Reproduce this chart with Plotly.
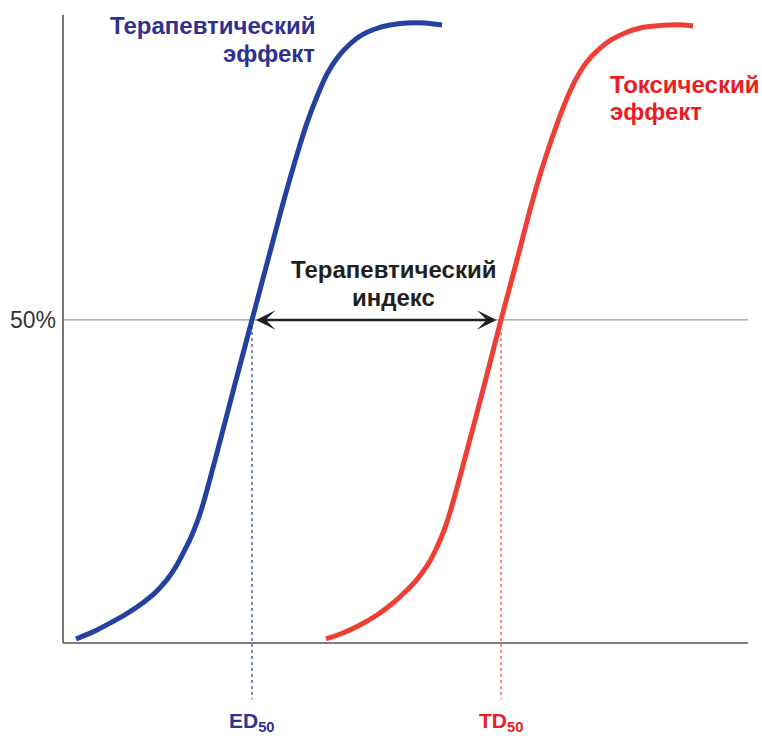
import plotly.graph_objects as go

# ---- data: dose (arbitrary units) vs. response (%) ----
blue_x = [13, 30, 47, 63, 80, 92, 104, 113, 122, 128, 134, 139, 144, 149, 155, 172, 189,
          206, 219, 228, 236, 244, 253, 264, 275, 287, 299, 312, 327, 344, 362, 379]
blue_y = [0.62, 1.72, 3.08, 4.47, 6.24, 7.75, 9.80, 11.83, 14.47, 16.38, 18.65, 20.97,
          23.68, 26.56, 30.04, 40.09, 50.0, 59.90, 67.48, 72.44, 76.62, 80.49, 84.20,
          88.07, 90.70, 92.71, 94.11, 95.03, 95.65, 95.96, 95.96, 95.65]
red_x = [263, 280, 297, 314, 330, 341, 351, 359, 367, 374, 380, 385, 390, 395, 402, 420,
         438, 454, 467, 477, 485, 493, 502, 512, 523, 535, 548, 562, 577, 592, 607, 620, 630]
red_y = [0.62, 1.55, 2.79, 4.33, 6.19, 7.74, 9.29, 10.83, 12.69, 14.86, 17.03, 19.19,
         21.82, 24.61, 28.63, 39.16, 50.0, 59.28, 67.02, 72.44, 76.31, 79.87, 83.58,
         86.99, 89.77, 91.78, 93.33, 94.42, 95.19, 95.50, 95.65, 95.65, 95.50]
ed50 = 189
td50 = 438
half_level = 50
y_top = 97.2
x_max = 685

label_ther = ["Терапевтический", "эффект"]
label_tox = ["Токсический", "эффект"]
label_index = ["Терапевтический", "индекс"]
label_ed = "ED<sub>50</sub>"
label_td = "TD<sub>50</sub>"
tick_label = "50%"

BLUE_LINE = "#2541a0"
RED_LINE = "#ef3e36"
BLUE_TEXT = "#2e3192"
RED_TEXT = "#ed1c24"
FONT = "Liberation Sans, Arial, sans-serif"

fig = go.Figure()
fig.add_trace(go.Scatter(x=blue_x, y=blue_y, mode="lines",
                         line=dict(color=BLUE_LINE, width=5, shape="spline", smoothing=0.8),
                         hoverinfo="skip", showlegend=False))
fig.add_trace(go.Scatter(x=red_x, y=red_y, mode="lines",
                         line=dict(color=RED_LINE, width=5, shape="spline", smoothing=0.8),
                         hoverinfo="skip", showlegend=False))

shapes = [
    dict(type="line", xref="x", yref="y", x0=0, x1=x_max, y0=half_level, y1=half_level,
         line=dict(color="#9a9a9a", width=1.2), layer="below"),
    dict(type="line", xref="x", yref="y", x0=0, x1=0, y0=0, y1=y_top,
         line=dict(color="#555555", width=1.6)),
    dict(type="line", xref="x", yref="y", x0=0, x1=x_max, y0=0, y1=0,
         line=dict(color="#555555", width=1.6)),
    dict(type="line", xref="x", yref="y", x0=ed50, x1=ed50, y0=half_level, y1=-8.7,
         line=dict(color=BLUE_LINE, width=1.2, dash="dot")),
    dict(type="line", xref="x", yref="y", x0=td50, x1=td50, y0=half_level, y1=-8.7,
         line=dict(color=RED_LINE, width=1.2, dash="dot")),
]


def text_line(x, y, txt, color, xanchor, size=24):
    return dict(x=x, y=y, xref="x", yref="y", text="<b>" + txt + "</b>",
                showarrow=False, xanchor=xanchor, yanchor="middle",
                font=dict(family=FONT, size=size, color=color))


annotations = [
    text_line(254, 95.6, label_ther[0], BLUE_TEXT, "right"),
    text_line(254, 91.3, label_ther[1], BLUE_TEXT, "right"),
    text_line(545, 86.4, label_tox[0], RED_TEXT, "left"),
    text_line(545, 82.2, label_tox[1], RED_TEXT, "left"),
    text_line(330, 57.8, label_index[0], "#231f20", "center"),
    text_line(330, 53.5, label_index[1], "#231f20", "center"),
    text_line(ed50, -12.2, label_ed, BLUE_TEXT, "center", size=21),
    text_line(td50, -12.2, label_td, RED_TEXT, "center", size=21),
    dict(x=193, y=half_level, ax=435, ay=half_level, xref="x", yref="y",
         axref="x", ayref="y", text="", showarrow=True,
         arrowhead=3, startarrowhead=3, arrowside="end+start",
         arrowsize=1.3, startarrowsize=1.3, arrowwidth=2.5, arrowcolor="#231f20",
         standoff=0, startstandoff=0),
]

fig.update_layout(
    width=762, height=741,
    margin=dict(l=60, r=4, t=10, b=0),
    paper_bgcolor="white", plot_bgcolor="white",
    shapes=shapes, annotations=annotations,
    xaxis=dict(range=[-3, 695], visible=False, fixedrange=True),
    yaxis=dict(range=[-15.17, 97.97], tickvals=[half_level], ticktext=[tick_label],
               showgrid=False, zeroline=False, showline=False, ticks="",
               ticklabelstandoff=3,
               tickfont=dict(family=FONT, size=23, color="#333333"), fixedrange=True),
    font=dict(family=FONT),
)

fig.write_html("out.html", config={"displayModeBar": False},
               post_script="document.body.style.margin='0';document.body.style.overflow='hidden';")
